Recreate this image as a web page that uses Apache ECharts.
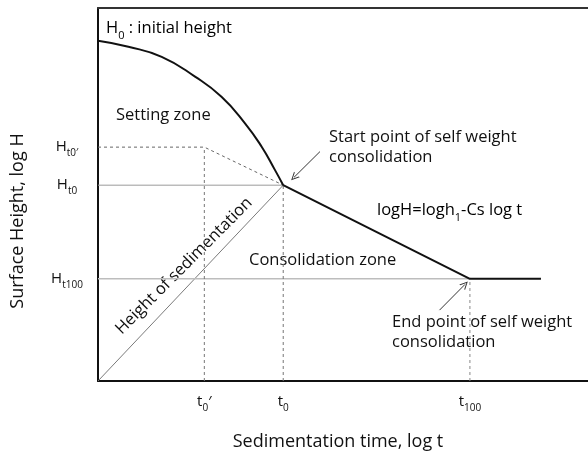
<!DOCTYPE html>
<html><head><meta charset="utf-8">
<script src="https://cdn.jsdelivr.net/npm/echarts@6/dist/echarts.min.js"></script>
<style>html,body{margin:0;padding:0;background:#fff}#c{width:588px;height:457px}</style>
</head><body><div id="c"></div>
<script>
// ---- data (schematic) ----
const settlingCurve = [[0,91.2],[6.2,89.6],[13.0,86.9],[19.8,81.6],[25.2,76.2],[30.0,69.1],[33.4,62.8],[36.1,56.6],[37.8,52.5]];
const consolidationLine = [[37.8,52.5],[75.9,27.4],[90.4,27.4]];
const sedimentationLine = [[0,0],[37.8,52.5]];
const ht0Line = [[0,52.5],[37.8,52.5]];
const ht100Line = [[0,27.4],[75.9,27.4]];
const ht0pDashed = [[0,62.7],[21.7,62.7],[37.8,52.5]];
const t0pDrop = [[21.7,0],[21.7,62.7]];
const t0Drop = [[37.8,0],[37.8,52.5]];
const t100Drop = [[75.9,0],[75.9,27.4]];
const startArrow = [[45.3,61.5],[40.0,54.6]];
const endArrow = [[69.7,19.0],[74.9,25.9]];
const xTickValues = [21.7, 37.8, 75.9];
const xTickLabels = ['{m|t}{s|0}{m|′}', '{m|t}{s|0}', '{m|t}{s|100}'];
const yTickValues = [27.4, 52.5, 62.7];
const yTickLabels = ['{m|H}{s|t100}', '{m|H}{s|t0}', '{m|H}{s|t0′}'];

const FONT = '"Open Sans", "Noto Sans", sans-serif';
function richSet(big, small, drop) {
  return {
    m: {fontSize: big, fontFamily: FONT, color: '#111', verticalAlign: 'bottom', lineHeight: big + 2, padding: [0, 0, drop, 0]},
    s: {fontSize: small, fontFamily: FONT, color: '#111', verticalAlign: 'bottom', lineHeight: small + 2}
  };
}
const tickRich = richSet(15, 10, 4);
const noteRich = richSet(16.5, 11, 4);
const NOTE = '16.5px ' + FONT;

const chart = echarts.init(document.getElementById('c'), null, {renderer: 'canvas'});
function lineS(data, color, width, type, smooth) {
  return {type: 'line', data: data, symbol: 'none', smooth: smooth || false, silent: true, animation: false,
    lineStyle: {color: color, width: width, type: type || 'solid'}, z: 3};
}
const arrowPath = 'path://M5,0 L10,10 L8.6,10 L5,2.6 L1.4,10 L0,10 Z';
function arrowS(pts) {
  return {type: 'lines', coordinateSystem: 'cartesian2d', silent: true, animation: false,
    symbol: ['none', arrowPath], symbolSize: [8, 8],
    lineStyle: {color: '#333', width: 1, opacity: 1},
    data: [{coords: pts}]};
}
chart.setOption({
  animation: false,
  grid: {left: 98, top: 8, right: 0, bottom: 76, outerBoundsMode: 'none', containLabel: false},
  xAxis: [{
    type: 'value', min: 0, max: 100, position: 'bottom',
    axisLine: {show: true, lineStyle: {color: '#111', width: 2}},
    axisTick: {show: false}, splitLine: {show: false},
    axisLabel: {customValues: xTickValues, margin: 15,
      formatter: function (v) { return xTickLabels[xTickValues.indexOf(v)] || ''; },
      rich: tickRich}
  }, {
    type: 'value', min: 0, max: 100, position: 'top',
    axisLine: {show: true, lineStyle: {color: '#333', width: 2}},
    axisTick: {show: false}, axisLabel: {show: false}, splitLine: {show: false}
  }],
  yAxis: {
    type: 'value', min: 0, max: 100,
    axisLine: {show: true, lineStyle: {color: '#111', width: 2}},
    axisTick: {show: false}, splitLine: {show: false},
    axisLabel: {customValues: yTickValues, margin: 31, align: 'center', padding: [5, 0, 0, 0],
      formatter: function (v) { return yTickLabels[yTickValues.indexOf(v)] || ''; },
      rich: tickRich}
  },
  series: [
    lineS(sedimentationLine, '#7a7a7a', 1),
    lineS(ht0Line, '#9a9a9a', 1),
    lineS(ht100Line, '#bdbdbd', 1.5),
    lineS(ht0pDashed, '#666', 1, [3, 3]),
    lineS(t0pDrop, '#777', 1, [3, 3]),
    lineS(t0Drop, '#777', 1, [3, 3]),
    lineS(t100Drop, '#888', 1, [3, 3]),
    lineS(settlingCurve, '#111', 2, 'solid', 0.5),
    lineS(consolidationLine, '#111', 2),
    arrowS(startArrow),
    arrowS(endArrow)
  ],
  graphic: [
    {type: 'text', x: 106, y: 32, style: {text: '{m|H}{s|0}{m| : initial height}', rich: noteRich, verticalAlign: 'middle'}},
    {type: 'text', x: 116, y: 115, style: {text: 'Setting zone', font: NOTE, fill: '#111', verticalAlign: 'middle'}},
    {type: 'text', x: 329, y: 128, style: {text: 'Start point of self weight\nconsolidation', font: NOTE, fill: '#111', lineHeight: 19.5, verticalAlign: 'top'}},
    {type: 'text', x: 377, y: 214, style: {text: '{m|logH=logh}{s|1}{m|-Cs log t}', rich: noteRich, verticalAlign: 'middle'}},
    {type: 'text', x: 249, y: 260, style: {text: 'Consolidation zone', font: NOTE, fill: '#111', verticalAlign: 'middle'}},
    {type: 'text', x: 392, y: 313, style: {text: 'End point of self weight\nconsolidation', font: NOTE, fill: '#111', lineHeight: 19.5, verticalAlign: 'top'}},
    {type: 'text', x: 184, y: 266, rotation: Math.PI / 4, style: {text: 'Height of sedimentation', font: NOTE, fill: '#111', align: 'center', verticalAlign: 'middle'}},
    {type: 'text', x: 338, y: 442, style: {text: 'Sedimentation time, log t', font: '18px ' + FONT, fill: '#111', align: 'center', verticalAlign: 'middle'}},
    {type: 'text', x: 18, y: 221, rotation: Math.PI / 2, style: {text: 'Surface Height, log H', font: '18px ' + FONT, fill: '#111', align: 'center', verticalAlign: 'middle'}}
  ]
});
</script></body></html>
